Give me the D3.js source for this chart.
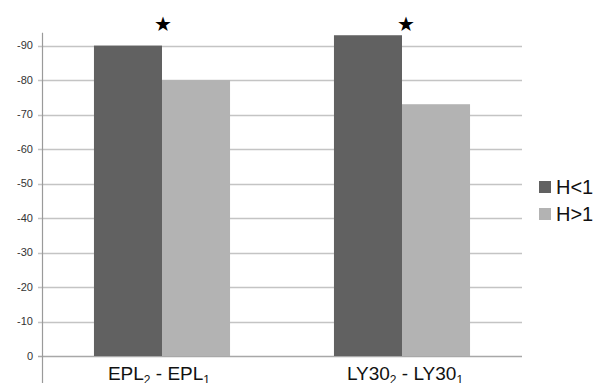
<!DOCTYPE html>
<html>
<head>
<meta charset="utf-8">
<script src="https://cdn.jsdelivr.net/npm/d3@7"></script>
<style>
  html, body { margin: 0; padding: 0; background: #fff; }
  svg { display: block; font-family: "Liberation Sans", Arial, sans-serif; }
</style>
</head>
<body>
<svg id="chart" width="599" height="383"></svg>
<script>
// Category stems; labels are drawn as "stem₂ - stem₁"
const categories = ["EPL", "LY30"];
const seriesNames = ["H<1", "H>1"];
const seriesColors = ["#616161", "#b3b3b3"];
const valuesHlt1 = [90, 93];
const valuesHgt1 = [80, 73];
const significant = [true, true];
const tickValues = [0, 10, 20, 30, 40, 50, 60, 70, 80, 90];
const tickLabels = ["0", "-10", "-20", "-30", "-40", "-50", "-60", "-70", "-80", "-90"];

const svg = d3.select("#chart");
const margin = { left: 42, right: 77, top: 11, bottom: 27 };
const W = 599, H = 383;

const x0 = d3.scaleBand()
  .domain(categories)
  .range([margin.left, W - margin.right])
  .paddingInner(0.433)
  .paddingOuter(0.2165);

const x1 = d3.scaleBand()
  .domain(seriesNames)
  .range([0, x0.bandwidth()]);

const y = d3.scaleLinear()
  .domain([0, 100])
  .range([H - margin.bottom, H - margin.bottom - 344.9]);

// gridlines with short ticks on the left
const grid = svg.append("g");
grid.selectAll("line")
  .data(tickValues)
  .join("line")
  .attr("x1", margin.left - 4)
  .attr("x2", W - margin.right)
  .attr("y1", d => Math.round(y(d)) + 0.5)
  .attr("y2", d => Math.round(y(d)) + 0.5)
  .attr("stroke", d => d === 0 ? "#a8a8a8" : "#c4c4c4")
  .attr("stroke-width", 1.4);

// y tick labels
svg.append("g").selectAll("text")
  .data(tickValues)
  .join("text")
  .attr("x", 33)
  .attr("y", d => y(d))
  .attr("dy", "0.35em")
  .attr("text-anchor", "end")
  .attr("font-size", 11)
  .attr("fill", "#333")
  .text((d, i) => tickLabels[i]);

// bars
const rows = categories.map((c, i) => ({ cat: c, vals: [valuesHlt1[i], valuesHgt1[i]] }));
const groups = svg.append("g").selectAll("g")
  .data(rows)
  .join("g")
  .attr("transform", d => `translate(${x0(d.cat)},0)`);

groups.selectAll("rect")
  .data(d => d.vals.map((v, k) => ({ name: seriesNames[k], v, k })))
  .join("rect")
  .attr("x", d => x1(d.name))
  .attr("width", x1.bandwidth())
  .attr("y", d => y(d.v))
  .attr("height", d => y(0) - y(d.v))
  .attr("fill", d => seriesColors[d.k]);

// y axis line
svg.append("line")
  .attr("x1", margin.left + 0.5).attr("x2", margin.left + 0.5)
  .attr("y1", y(93.7)).attr("y2", H)
  .attr("stroke", "#9a9a9a").attr("stroke-width", 1.2);

// significance stars
svg.append("g").selectAll("text")
  .data(rows.filter((d, i) => significant[i]))
  .join("text")
  .attr("x", (d, i) => x0(d.cat) + x0.bandwidth() / 2 + (i === 0 ? 1 : 4))
  .attr("y", 31)
  .attr("text-anchor", "middle")
  .attr("font-size", 20)
  .attr("fill", "#000")
  .attr("font-family", "DejaVu Sans")
  .text("★");

// category labels with subscripts: "X₂ - X₁"
const catLabels = svg.append("g").selectAll("text")
  .data(categories)
  .join("text")
  .attr("x", (d, i) => x0(d) + x0.bandwidth() / 2 + (i === 0 ? -3 : 3))
  .attr("y", 380)
  .attr("text-anchor", "middle")
  .attr("font-size", 19)
  .attr("fill", "#111");
catLabels.each(function (d) {
  const t = d3.select(this);
  t.append("tspan").text(d);
  t.append("tspan").attr("font-size", 12).attr("dy", 4).text("2");
  t.append("tspan").attr("dy", -4).text(" - " + d);
  t.append("tspan").attr("font-size", 12).attr("dy", 4).text("1");
});

// legend
const legend = svg.append("g").selectAll("g")
  .data(seriesNames)
  .join("g")
  .attr("transform", (d, i) => `translate(539,${181 + i * 27})`);
legend.append("rect")
  .attr("width", 12).attr("height", 12)
  .attr("fill", (d, i) => seriesColors[i]);
legend.append("text")
  .attr("x", 17).attr("y", 13)
  .attr("font-size", 20)
  .attr("fill", "#111")
  .text(d => d);
</script>
</body>
</html>
